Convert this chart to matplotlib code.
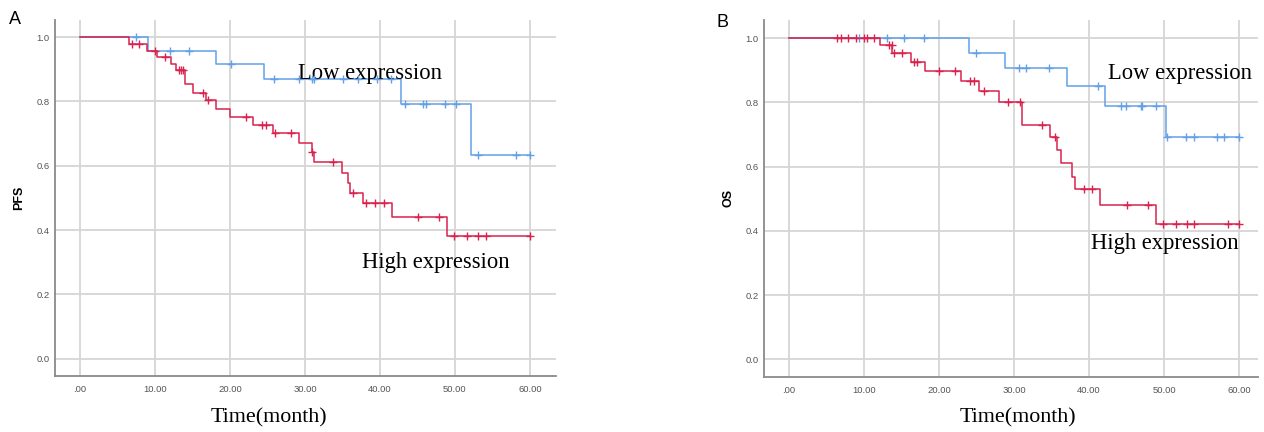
import numpy as np
import matplotlib
matplotlib.use("Agg")
import matplotlib.pyplot as plt

# ---- data ----
# A: PFS
pfs_low_t = [0, 9.1, 18.1, 24.6, 42.8, 52.2]
pfs_low_s = [1.0, 0.958, 0.917, 0.870, 0.791, 0.634]
pfs_low_cens = [7.5, 12.0, 14.6, 20.1, 25.9, 29.2, 30.9, 31.2, 35.1, 37.1, 39.6, 41.5,
                43.4, 45.7, 46.2, 48.7, 50.1, 53.1, 58.1, 60.0]

pfs_high_t = [0, 6.6, 8.9, 10.3, 12.1, 12.8, 14.0, 15.1, 16.8, 18.2, 20.0, 23.1, 25.7,
              29.2, 30.9, 31.2, 34.9, 35.7, 36.0, 37.8, 41.6, 48.9]
pfs_high_s = [1.0, 0.980, 0.958, 0.939, 0.918, 0.897, 0.853, 0.827, 0.805, 0.778, 0.753,
              0.727, 0.702, 0.672, 0.642, 0.613, 0.579, 0.547, 0.516, 0.483, 0.440, 0.383]
pfs_high_cens = [7.0, 7.9, 10.0, 11.4, 13.2, 13.5, 13.8, 16.4, 17.1, 22.2, 24.3, 24.8,
                 26.0, 28.1, 31.0, 33.8, 36.4, 38.1, 39.3, 40.5, 45.1, 47.9, 49.9, 51.6,
                 53.1, 54.1, 60.0]

# B: OS
os_low_t = [0, 24.0, 28.8, 37.1, 42.1, 50.2]
os_low_s = [1.0, 0.955, 0.906, 0.851, 0.790, 0.693]
os_low_cens = [9.4, 13.1, 15.3, 18.0, 25.0, 30.6, 31.6, 34.6, 41.2, 44.2, 44.9, 46.9,
               47.1, 48.9, 50.4, 52.9, 54.0, 57.1, 58.0, 60.0]

os_high_t = [0, 12.2, 13.8, 16.3, 18.2, 23.0, 25.4, 28.0, 31.0, 34.8, 35.7, 36.3, 37.7,
             38.1, 41.5, 48.9]
os_high_s = [1.0, 0.979, 0.953, 0.926, 0.898, 0.866, 0.837, 0.801, 0.730, 0.692, 0.651,
             0.611, 0.568, 0.530, 0.481, 0.421]
os_high_cens = [6.4, 7.0, 7.9, 8.9, 10.0, 10.4, 11.3, 13.4, 13.7, 14.0, 15.1, 16.7, 17.1,
                20.0, 22.2, 24.2, 24.7, 26.0, 29.2, 30.8, 33.7, 35.5, 39.3, 40.4, 45.0,
                47.9, 49.9, 51.6, 53.1, 54.0, 58.5, 60.0]

x_ticks = [0, 10, 20, 30, 40, 50, 60]
x_labels = [".00", "10.00", "20.00", "30.00", "40.00", "50.00", "60.00"]
y_ticks = [0.0, 0.2, 0.4, 0.6, 0.8, 1.0]
y_labels = ["0.0", "0.2", "0.4", "0.6", "0.8", "1.0"]

BLUE = "#62a0e8"
RED = "#d9224e"
W, H = 1264, 432


def km(ax, t, s, cens, color, t_end=60.0):
    xs = list(t) + [t_end]
    ys = list(s) + [s[-1]]
    ax.plot(xs, ys, drawstyle="steps-post", color=color, lw=1.1, zorder=3)
    idx = np.searchsorted(t, cens, side="right") - 1
    cy = np.array(s)[idx]
    ax.plot(cens, cy, ls="none", marker="+", ms=6, mew=1.0, color=color, zorder=4)


def style(ax, xlim, ylim):
    ax.set_xlim(*xlim)
    ax.set_ylim(*ylim)
    ax.set_xticks(x_ticks)
    ax.set_xticklabels(x_labels)
    ax.set_yticks(y_ticks)
    ax.set_yticklabels(y_labels)
    ax.grid(True, color="#d6d6d6", lw=1.3, zorder=0)
    ax.tick_params(length=0, labelsize=6.8, labelcolor="#555555")
    ax.tick_params(axis="x", pad=7)
    ax.tick_params(axis="y", pad=4)
    for sp in ["top", "right"]:
        ax.spines[sp].set_visible(False)
    for sp in ["left", "bottom"]:
        ax.spines[sp].set_color("#8a8a8a")
        ax.spines[sp].set_linewidth(1.3)
    for lab in ax.get_xticklabels() + ax.get_yticklabels():
        lab.set_family("Liberation Sans")


fig = plt.figure(figsize=(W / 100, H / 100), dpi=100)

axA = fig.add_axes([55 / W, (432 - 375.7) / H, (556 - 55) / W, (375.7 - 20) / H])
km(axA, pfs_low_t, pfs_low_s, pfs_low_cens, BLUE)
km(axA, pfs_high_t, pfs_high_s, pfs_high_cens, RED)
style(axA, (-3.33, 63.47), (-0.0529, 1.0535))
axA.set_ylabel("PFS", fontsize=9, fontweight="bold", family="Liberation Sans", labelpad=8)
axA.text(29.1, 0.870, "Low expression", family="Liberation Serif", fontsize=16.3, va="baseline")
axA.text(37.6, 0.281, "High expression", family="Liberation Serif", fontsize=16.3, va="baseline")

axB = fig.add_axes([764 / W, (432 - 376.7) / H, (1258 - 764) / W, (376.7 - 20) / H])
km(axB, os_low_t, os_low_s, os_low_cens, BLUE)
km(axB, os_high_t, os_high_s, os_high_cens, RED)
style(axB, (-3.33, 62.53), (-0.0542, 1.057))
axB.set_ylabel("OS", fontsize=9, fontweight="bold", family="Liberation Sans", labelpad=8)
axB.text(42.5, 0.873, "Low expression", family="Liberation Serif", fontsize=16.3, va="baseline")
axB.text(40.3, 0.344, "High expression", family="Liberation Serif", fontsize=16.3, va="baseline")

# x labels (placed as in the reference, left of axes centre)
fig.text(269 / W, 1 - 422 / H, "Time(month)", family="Liberation Serif", fontsize=15.8,
         ha="center", va="baseline")
fig.text(1017.5 / W, 1 - 422 / H, "Time(month)", family="Liberation Serif", fontsize=15.8,
         ha="center", va="baseline")

# panel letters
fig.text(9 / W, 1 - 24 / H, "A", family="Liberation Sans", fontsize=13, va="baseline")
fig.text(716 / W, 1 - 27 / H, "B", family="Liberation Sans", fontsize=13, va="baseline")

fig.savefig("out.png", dpi=100)
